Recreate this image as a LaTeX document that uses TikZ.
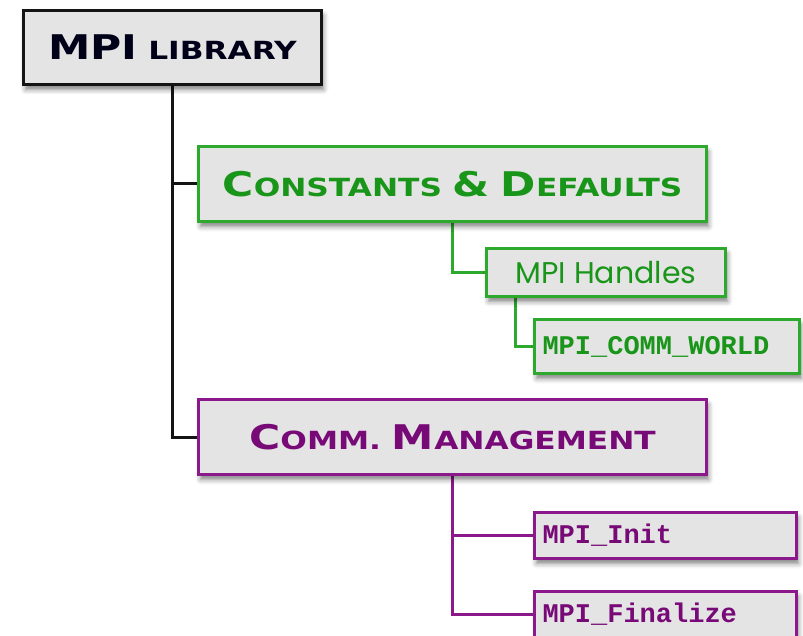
\documentclass[tikz,border=0pt]{standalone}
\usepackage{fontspec}
\usetikzlibrary{shadows.blur,calc,backgrounds}
\newfontfamily\capsfont[FakeStretch=1.25]{DejaVu Sans}
\newfontfamily\handfont{Poppins}
\newfontfamily\codefont{Liberation Mono}
\newcommand\BC[1]{{\fontsize{34}{34}\selectfont #1}}
\newcommand\SC[1]{{\fontsize{25}{25}\selectfont #1}}
\definecolor{grnline}{RGB}{45,170,45}
\definecolor{grntext}{RGB}{25,150,25}
\definecolor{purline}{RGB}{140,25,140}
\definecolor{purtext}{RGB}{120,10,120}
\definecolor{boxfill}{RGB}{228,228,228}
\definecolor{blkline}{RGB}{20,20,20}
\begin{document}
\begin{tikzpicture}[x=1pt,y=-1pt,
  box/.style={anchor=north west, inner sep=0pt, fill=boxfill, line width=3pt,
    blur shadow={shadow xshift=2pt, shadow yshift=-5pt, shadow blur radius=5pt, shadow opacity=50}},
  capsbox/.style={box, font=\capsfont\bfseries\fontsize{25}{25}\selectfont},
  codebox/.style={box, font=\codefont\bfseries\fontsize{27}{27}\selectfont, align=left, inner xsep=8pt},
  green/.style={draw=grnline, text=grntext},
  purple/.style={draw=purline, text=purtext},
  conn/.style={line width=3pt}
]
\useasboundingbox (0,0) rectangle (803,636);
\node[capsbox, draw=blkline, text=black!90!blue, minimum width=298pt, minimum height=74pt] (lib) at (22,9) {\BC{MPI} \SC{LIBRARY}};
\node[capsbox, green, minimum width=508pt, minimum height=75pt] (cons) at (197,145) {\BC{C}\SC{ONSTANTS} \BC{\&} \BC{D}\SC{EFAULTS}};
\node[box, green, font=\handfont\fontsize{30}{30}\selectfont, minimum width=239pt, minimum height=48pt] (hand) at (485,247) {MPI Handles};
\node[codebox, green, text width=249pt, minimum height=54pt] (world) at (533,318) {MPI\_COMM\_WORLD};
\node[capsbox, purple, minimum width=508pt, minimum height=75pt] (comm) at (197,398) {\BC{C}\SC{OMM.} \BC{M}\SC{ANAGEMENT}};
\node[codebox, purple, text width=246pt, minimum height=46pt] (init) at (533,511) {MPI\_Init};
\node[codebox, purple, text width=246pt, minimum height=46pt] (fin) at (533,590) {MPI\_Finalize};
\begin{scope}[on background layer]
\draw[conn, blkline] (lib.south) |- (cons.west);
\draw[conn, blkline] (lib.south) |- (comm.west);
\draw[conn, grnline] (cons.south) |- (hand.west);
\draw[conn, grnline] ($(hand.south west)+(30,0)$) |- (world.west);
\draw[conn, purline] (comm.south) |- (init.west);
\draw[conn, purline] (comm.south) |- (fin.west);
\end{scope}
\end{tikzpicture}
\end{document}
